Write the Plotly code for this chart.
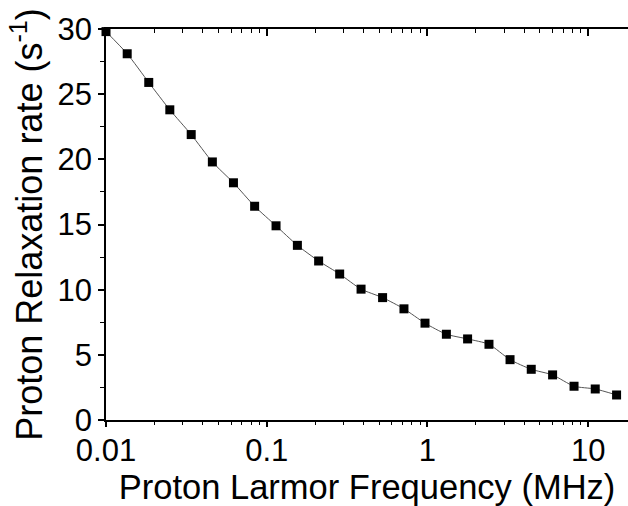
import plotly.graph_objects as go

freq_mhz = [0.01, 0.01355, 0.01845, 0.02495, 0.0339, 0.0459, 0.0621, 0.0841,
            0.1143, 0.1552, 0.2104, 0.2844, 0.3864, 0.526, 0.7145, 0.966,
            1.312, 1.778, 2.415, 3.266, 4.426, 6.01, 8.17, 11.07, 15.03]
rate = [29.8, 28.1, 25.9, 23.8, 21.9, 19.8, 18.2, 16.4, 14.9, 13.4, 12.2,
        11.2, 10.04, 9.39, 8.53, 7.43, 6.58, 6.22, 5.81, 4.63, 3.89, 3.46,
        2.59, 2.38, 1.92]

x_major = [0.01, 0.1, 1, 10]
x_major_text = ["0.01", "0.1", "1", "10"]
x_minor = [m * d for d in [0.01, 0.1, 1, 10] for m in range(2, 10)]

FONT = "Liberation Sans, Arial, sans-serif"

fig = go.Figure()
fig.add_trace(go.Scatter(
    x=freq_mhz, y=rate, mode="lines",
    line=dict(color="#555555", width=1, shape="spline", smoothing=0.6),
    showlegend=False, hoverinfo="skip", cliponaxis=False))
fig.add_trace(go.Scatter(
    x=freq_mhz, y=rate, mode="markers",
    marker=dict(symbol="square", size=9, color="black", line=dict(width=0)),
    showlegend=False, cliponaxis=False))
fig.add_trace(go.Scatter(x=[], y=[], xaxis="x2", showlegend=False))

xrange = [-2, 1.248]
fig.update_layout(
    width=628, height=506,
    margin=dict(l=106, r=0, t=29, b=86),
    plot_bgcolor="white", paper_bgcolor="white",
    font=dict(family=FONT, color="black"),
    xaxis=dict(
        type="log", range=xrange, automargin=False,
        tickmode="array", tickvals=x_major, ticktext=x_major_text,
        ticks="outside", ticklen=5, tickwidth=1.5, tickcolor="black",
        ticklabelstandoff=-3,
        showline=True, linecolor="black", linewidth=1.5,
        showgrid=False, zeroline=False,
        tickfont=dict(size=31, family=FONT),
        minor=dict(tickmode="array", tickvals=x_minor, ticks="outside",
                   ticklen=3, tickwidth=1.2, tickcolor="black", showgrid=False),
        title=dict(text="Proton Larmor Frequency (MHz)",
                   font=dict(size=34.5, family=FONT), standoff=8),
    ),
    xaxis2=dict(
        type="log", range=xrange, overlaying="x", side="top", automargin=False,
        tickmode="array", tickvals=x_major, showticklabels=False,
        ticks="inside", ticklen=7, tickwidth=1.5, tickcolor="black",
        showline=True, linecolor="black", linewidth=1.5,
        showgrid=False, zeroline=False,
        minor=dict(tickmode="array", tickvals=x_minor, ticks="inside",
                   ticklen=4, tickwidth=1.2, tickcolor="black", showgrid=False),
    ),
    yaxis=dict(
        range=[0, 30], automargin=False,
        tickmode="array", tickvals=[0, 5, 10, 15, 20, 25, 30],
        ticks="outside", ticklen=6, tickwidth=1.5, tickcolor="black",
        showline=True, linecolor="black", linewidth=1.5,
        showgrid=False, zeroline=False,
        tickfont=dict(size=31, family=FONT),
        minor=dict(tickmode="array", tickvals=[2.5, 7.5, 12.5, 17.5, 22.5, 27.5],
                   ticks="outside", ticklen=4, tickwidth=1.2, tickcolor="black",
                   showgrid=False),
        title=dict(text="Proton Relaxation rate (s<sup>-1</sup>)",
                   font=dict(size=36, family=FONT), standoff=4),
    ),
)

fig.write_html("out.html", config={"displayModeBar": False},
               post_script="document.body.style.margin='0';document.body.style.overflow='hidden';")
